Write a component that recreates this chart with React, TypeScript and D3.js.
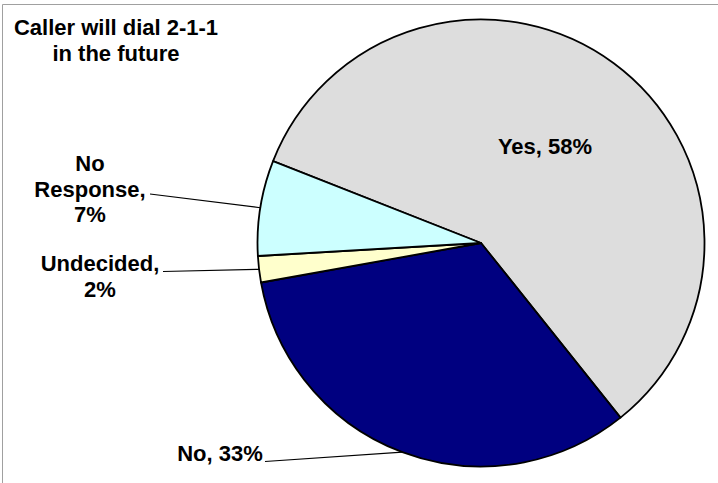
import React from "react";
import * as d3 from "d3";

const categories = ["Yes", "No", "Undecided", "No Response"];
const values = [58.3, 32.9, 1.9, 6.9];
const colors = ["#DDDDDD", "#000080", "#FFFFCC", "#CCFFFF"];
const titleLines = ["Caller will dial 2-1-1", "in the future"];

const W = 718;
const H = 483;
const cx = 481;
const cy = 243;
const R = 223.5;
const startDeg = 291.5;

export default function App() {
  const data = categories.map((c, i) => ({ c, v: values[i], i }));
  const pie = d3
    .pie<any>()
    .value((d) => d.v)
    .sort(null)
    .startAngle((startDeg * Math.PI) / 180)
    .endAngle(((startDeg + 360) * Math.PI) / 180);
  const arcs = pie(data);
  const arc = d3.arc<any>().innerRadius(0).outerRadius(R);
  const edge = (a: any) => {
    const m = (a.startAngle + a.endAngle) / 2;
    return [cx + R * Math.sin(m), cy - R * Math.cos(m)];
  };
  const font = "'Liberation Sans', Arial, sans-serif";
  const fs = 22;
  const lh = 25.5;

  const labelLayout: any = {
    Yes: { x: 545, y: 154, lines: ["Yes, 58%"], lx: null },
    No: { x: 220, y: 461, lines: ["No, 33%"], lx: [265, 461.5] },
    Undecided: { x: 100, y: 271, lines: ["Undecided,", "2%"], lx: [163, 271.5] },
    "No Response": { x: 90, y: 171, lines: ["No", "Response,", "7%"], lx: [150, 194] },
  };

  return (
    <svg width={W} height={H} style={{ position: "absolute", left: 0, top: 0, background: "#fff" }}>
      <rect x={0} y={0} width={W} height={H} fill="#fff" />
      <line x1={2.5} y1={4.5} x2={W} y2={4.5} stroke="#a0a0a0" strokeWidth={1} />
      <line x1={2.5} y1={4.5} x2={2.5} y2={H} stroke="#a0a0a0" strokeWidth={1} />
      <g transform={`translate(${cx},${cy})`}>
        {arcs.map((a, i) => (
          <path key={i} d={arc(a) as string} fill={colors[i]} stroke="#000" strokeWidth={1.8} strokeLinejoin="round" />
        ))}
      </g>
      {arcs.map((a, i) => {
        const L = labelLayout[categories[i]];
        const [ex, ey] = edge(a);
        return (
          <g key={"l" + i}>
            {L.lx && <line x1={L.lx[0]} y1={L.lx[1]} x2={ex} y2={ey} stroke="#000" strokeWidth={1.2} />}
            <text x={L.x} y={L.y} textAnchor="middle" fontFamily={font} fontWeight="bold" fontSize={fs} fill="#000">
              {L.lines.map((t: string, k: number) => (
                <tspan key={k} x={L.x} dy={k === 0 ? 0 : lh}>
                  {t}
                </tspan>
              ))}
            </text>
          </g>
        );
      })}
      <text x={116} y={35} textAnchor="middle" fontFamily={font} fontWeight="bold" fontSize={fs} fill="#000">
        {titleLines.map((t, k) => (
          <tspan key={k} x={116} dy={k === 0 ? 0 : lh}>
            {t}
          </tspan>
        ))}
      </text>
    </svg>
  );
}
